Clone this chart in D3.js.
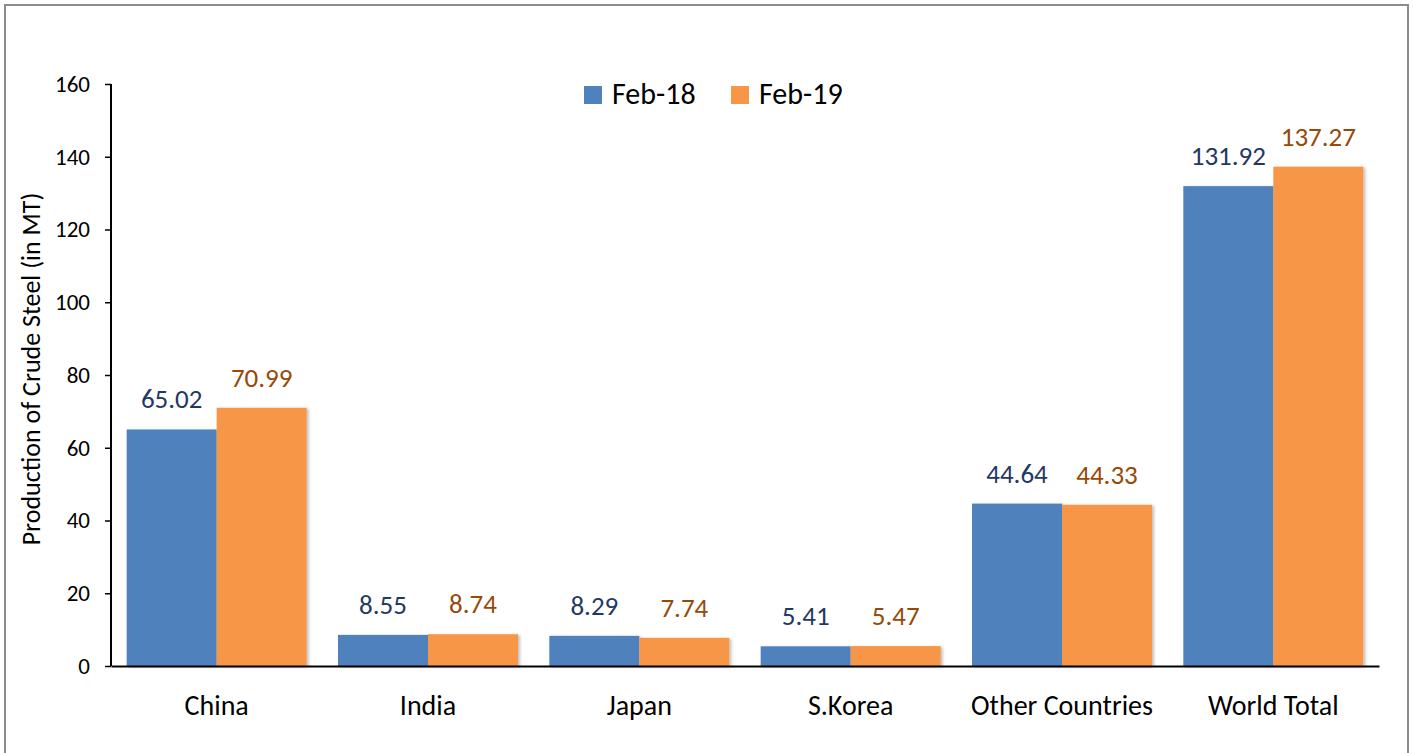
<!DOCTYPE html>
<html>
<head>
<meta charset="utf-8">
<script src="https://cdn.jsdelivr.net/npm/d3@7"></script>
<style>
  body { margin: 0; background: #fff; }
  text { font-family: Carlito, Calibri, Lato, sans-serif; }
</style>
</head>
<body>
<svg id="chart" width="1415" height="753"></svg>
<script>
(function () {
    'use strict';

    var categories = ["China", "India", "Japan", "S.Korea", "Other Countries", "World Total"],
        seriesNames = ["Feb-18", "Feb-19"],
        feb18 = [65.02, 8.55, 8.29, 5.41, 44.64, 131.92],
        feb19 = [70.99, 8.74, 7.74, 5.47, 44.33, 137.27],
        yTicks = [0, 20, 40, 60, 80, 100, 120, 140, 160];

    var colours = ["#4F81BD", "#F79646"],
        labelColours = ["#1F3864", "#984807"],
        left = 111, right = 1379, top = 84, bottom = 666;

    var svg = d3.select("#chart");

    // outer frame
    svg.append("rect")
        .attr("x", 5).attr("y", 5)
        .attr("width", 1403).attr("height", 760)
        .attr("fill", "white")
        .attr("stroke", "#8c8c8c")
        .attr("stroke-width", 2);

    var defs = svg.append("defs");
    defs.append("filter").attr("id", "shadow")
        .attr("x", "-10%").attr("y", "-10%").attr("width", "130%").attr("height", "130%")
        .append("feDropShadow")
        .attr("dx", 2).attr("dy", 1).attr("stdDeviation", 1.5)
        .attr("flood-color", "#000").attr("flood-opacity", 0.25);

    var x = d3.scaleBand().domain(categories).range([left, right]);
    var inner = d3.scaleBand().domain(seriesNames).range([0, 180]);
    var y = d3.scaleLinear().domain([0, 160]).range([bottom, top]);
    var pad = (x.bandwidth() - 180) / 2;

    var rows = categories.map(function (c, i) {
        return { cat: c, vals: [feb18[i], feb19[i]] };
    });

    var groups = svg.selectAll("g.grp")
        .data(rows)
        .enter()
        .append("g")
        .attr("class", "grp")
        .attr("transform", function (d) { return "translate(" + (x(d.cat) + pad) + ",0)"; });

    groups.selectAll("rect")
        .data(function (d) { return d.vals.map(function (v, k) { return { k: k, v: v }; }); })
        .enter()
        .append("rect")
        .attr("x", function (d) { return inner(seriesNames[d.k]); })
        .attr("y", function (d) { return y(d.v); })
        .attr("width", inner.bandwidth())
        .attr("height", function (d) { return y(0) - y(d.v); })
        .attr("fill", function (d) { return colours[d.k]; })
        .attr("filter", "url(#shadow)");

    groups.selectAll("text")
        .data(function (d) { return d.vals.map(function (v, k) { return { k: k, v: v }; }); })
        .enter()
        .append("text")
        .attr("x", function (d) { return inner(seriesNames[d.k]) + inner.bandwidth() / 2; })
        .attr("y", function (d) { return y(d.v) - 21; })
        .attr("text-anchor", "middle")
        .attr("font-size", 27)
        .attr("fill", function (d) { return labelColours[d.k]; })
        .text(function (d) { return d.v.toFixed(2); });

    // axes
    var yAxis = svg.append("g")
        .attr("transform", "translate(" + left + ",0)")
        .call(d3.axisLeft(y).tickValues(yTicks).tickSize(6).tickPadding(15));
    yAxis.select(".domain").attr("stroke", "#000").attr("stroke-width", 2).attr("d", "M0," + top + "V" + bottom);
    yAxis.selectAll(".tick line").attr("stroke", "#000").attr("stroke-width", 1.5);
    yAxis.selectAll(".tick text").attr("font-size", 23).attr("fill", "#000")
        .attr("font-family", "Carlito, Calibri, Lato, sans-serif");

    var xAxis = svg.append("g")
        .attr("transform", "translate(0," + bottom + ")")
        .call(d3.axisBottom(x).tickSize(0).tickPadding(29));
    xAxis.select(".domain").attr("stroke", "#000").attr("stroke-width", 2);
    xAxis.selectAll(".tick text").attr("font-size", 28).attr("fill", "#000")
        .attr("font-family", "Carlito, Calibri, Lato, sans-serif");

    // y title
    svg.append("text")
        .attr("transform", "translate(40," + ((top + bottom) / 2 - 6) + ") rotate(-90)")
        .attr("text-anchor", "middle")
        .attr("font-size", 26)
        .attr("fill", "#000")
        .text("Production of Crude Steel (in MT)");

    // legend
    var legend = svg.append("g").attr("transform", "translate(584,86)");
    var items = legend.selectAll("g")
        .data(seriesNames)
        .enter()
        .append("g")
        .attr("transform", function (d, i) { return "translate(" + (i * 147) + ",0)"; });
    items.append("rect")
        .attr("width", 18).attr("height", 18)
        .attr("fill", function (d, i) { return colours[i]; });
    items.append("text")
        .attr("x", 28).attr("y", 18)
        .attr("font-size", 30)
        .attr("fill", "#000")
        .text(function (d) { return d; });
})();
</script>
</body>
</html>
